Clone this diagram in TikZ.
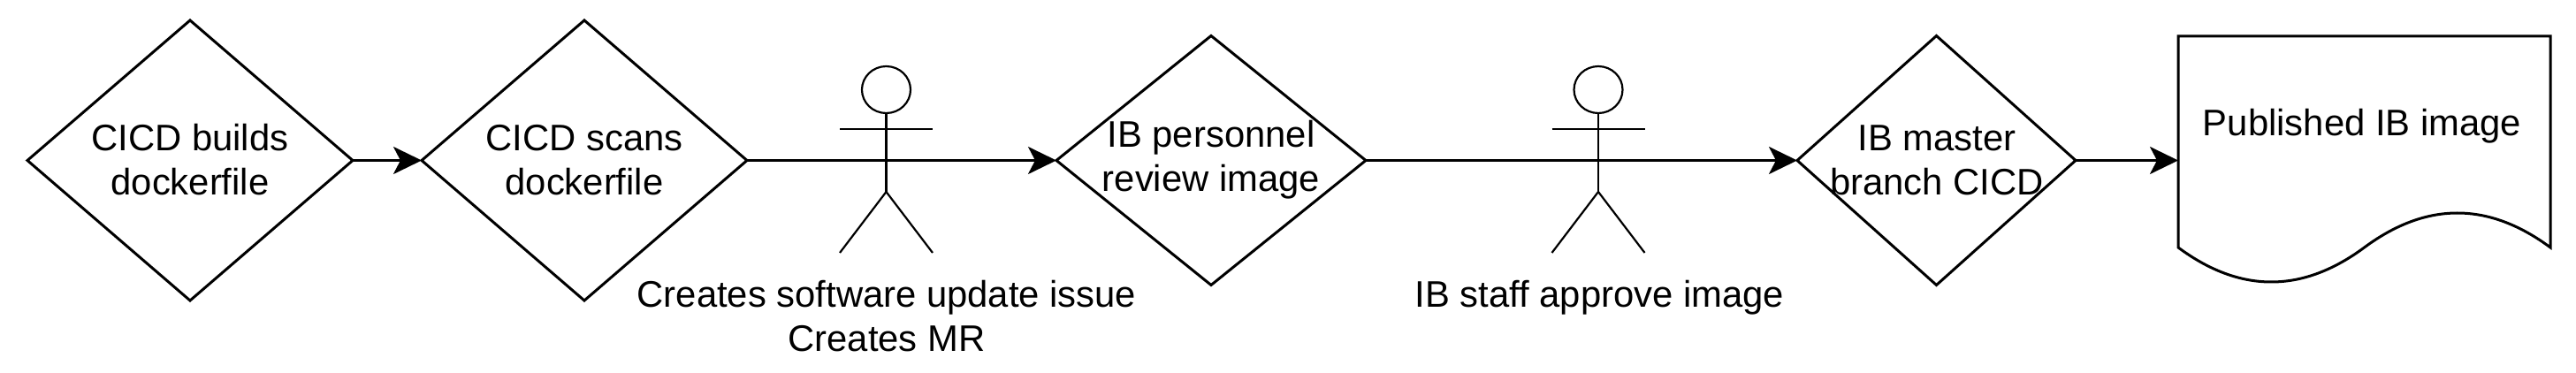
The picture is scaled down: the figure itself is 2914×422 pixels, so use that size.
\documentclass[tikz,border=0pt]{standalone}
\usepackage{fontspec}
\setmainfont{Liberation Sans}
\usetikzlibrary{positioning, arrows.meta, shapes.geometric}

\tikzset{
  decision/.style={diamond, draw, line width=1.5pt, inner sep=0pt, outer sep=0pt, minimum width=#1},
  lbl/.style={align=center, inner sep=0pt, font=\fontsize{20.9pt}{25pt}\selectfont},
  flow/.style={line width=1.5pt, -{Stealth[length=16pt, width=15.5pt, inset=4pt]}},
  stick/.style={line width=1.1pt}
}

\begin{document}
\begin{tikzpicture}[x=.5pt, y=-.5pt]
\useasboundingbox (0,0) rectangle (2914,422);

% Diamonds along the pipeline
\node[decision=184pt, minimum height=158.5pt] (build) at (215,181.5) {};
\node[decision=184pt, minimum height=158.5pt] (scan) at (661,181.5) {};
\node[decision=175pt, minimum height=141pt] (review) at (1370,181.5) {};
\node[decision=157.5pt, minimum height=141pt] (master) at (2190.5,181.5) {};

% Text of the diamonds
\node[lbl] (buildtxt) at (215,181) {CICD builds\\dockerfile};
\node[lbl] (scantxt) at (661,181) {CICD scans\\dockerfile};
\node[lbl] (reviewtxt) at (1370,181) {IB personnel\\review image};
\node[lbl] (mastertxt) at (2191,181) {IB master\\branch CICD};

% Stick figures
\foreach \who/\x in {dev/1002.5, staff/1808}{
  \node[ellipse, draw, stick, inner sep=0pt, outer sep=0pt, minimum width=27.5pt, minimum height=26.5pt] (\who head) at (\x,101.5) {};
  \coordinate (\who hip) at (\x,217);
  \draw[stick] (\who head.south) -- (\who hip);
  \draw[stick] (\x-52.5,146) -- (\x+52.5,146);
  \draw[stick] (\x-52.5,286) -- (\who hip) -- (\x+52.5,286);
}

% Captions under the figures
\node[lbl] (devtxt) at (1003,358) {Creates software update issue\\Creates MR};
\node[lbl] (stafftxt) at (1809.5,337) {IB staff approve image};

% Published document with wavy bottom
\draw[line width=1.5pt] (2464,280) -- (2464,41) -- (2885,41) -- (2885,280)
  .. controls (2814.8,228) and (2744.7,228) .. (2674.5,280)
  .. controls (2604.3,332) and (2534.2,332) .. (2464,280) -- cycle;
\node[lbl] (pub) at (2672,143) {Published IB image};
\coordinate (pubin) at (2464,181.5);

% Arrows
\draw[flow] (build) -- (scan);
\draw[flow] (scan) -- (review);
\draw[flow] (review) -- (master);
\draw[flow] (master) -- (pubin);
\end{tikzpicture}
\end{document}
